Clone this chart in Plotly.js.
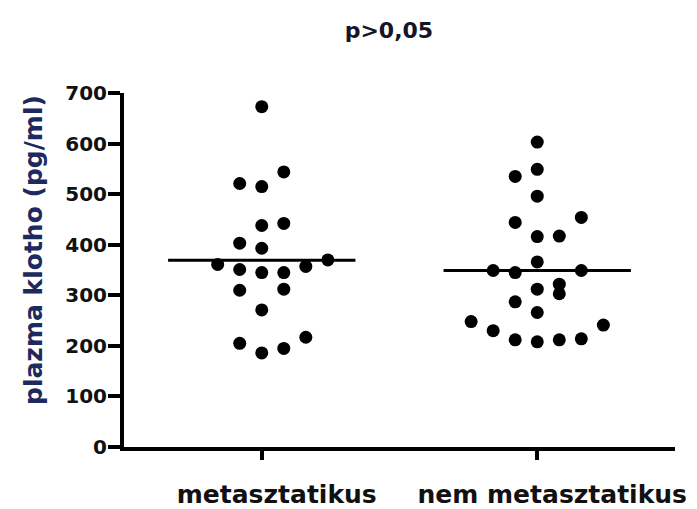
<!DOCTYPE html>
<html>
<head>
<meta charset="utf-8">
<script src="https://cdn.plot.ly/plotly-3.0.1.min.js"></script>
<style>
  html, body { margin: 0; padding: 0; background: #fff; }
  #myDiv { width: 697px; height: 509px; }
</style>
</head>
<body>
<div id="myDiv"></div>
<script>
// groups on the x axis
var groups = ["metasztatikus", "nem metasztatikus"];

// plazma klotho (pg/ml)
var metValues = [673, 544, 521, 515, 442, 438, 403, 393, 361, 370, 351,
                 345, 345, 357, 310, 312, 271, 205, 186, 195, 217];
var nemValues = [603, 549, 535, 496, 444, 454, 416, 417, 366, 349, 345, 349,
                 312, 322, 303, 287, 266, 248, 230, 212, 208, 212, 214, 241];

// beeswarm column of each point (left/right of the group centre)
var metCol = [0, 1, -1, 0, 1, 0, -1, 0, -2, 3, -1,
              0, 1, 2, -1, 1, 0, -1, 0, 1, 2];
var nemCol = [0, 0, -1, 0, -1, 2, 0, 1, 0, -2, -1, 2,
              0, 1, 1, -1, 0, -3, -2, -1, 0, 1, 2, 3];

var yTicks = [0, 100, 200, 300, 400, 500, 600, 700];

var step = 0.08;      // spacing of the swarm columns
var halfLine = 0.34;  // half width of the mean line
var font = "DejaVu Sans, Verdana, sans-serif";

function mean(a) {
    var s = 0;
    for (var i = 0; i < a.length; i++) s += a[i];
    return s / a.length;
}

var sets = [
    {vals: metValues, cols: metCol},
    {vals: nemValues, cols: nemCol}
];

var data = [];
sets.forEach(function(g, gi) {
    data.push({
        x: g.cols.map(function(c) { return gi + c * step; }),
        y: g.vals,
        mode: 'markers',
        type: 'scatter',
        marker: {color: '#000', size: 13, symbol: 'circle'},
        hoverinfo: 'y'
    });
    var m = mean(g.vals);
    data.push({
        x: [gi - halfLine, gi + halfLine],
        y: [m, m],
        mode: 'lines',
        type: 'scatter',
        line: {color: '#000', width: 3},
        hoverinfo: 'skip'
    });
});

var layout = {
    width: 697,
    height: 509,
    margin: {l: 124, r: 22, t: 93, b: 62},
    paper_bgcolor: '#fff',
    plot_bgcolor: '#fff',
    showlegend: false,
    font: {family: font, color: '#111'},
    title: {
        text: '<b>p>0,05</b>',
        font: {family: font, size: 22, color: '#14142a'},
        xref: 'container', yref: 'container',
        x: 0.558, y: 0.94, xanchor: 'center', yanchor: 'middle'
    },
    xaxis: {
        range: [-0.5, 1.5],
        tickvals: [0, 1],
        ticktext: groups.map(function(g) { return '<b>' + g + '</b>'; }),
        tickfont: {family: font, size: 25, color: '#111'},
        ticks: 'outside', ticklen: 9, tickwidth: 4, tickcolor: '#000',
        ticklabelshift: 15, ticklabelstandoff: 13,
        showline: true, linewidth: 4, linecolor: '#000',
        showgrid: false, zeroline: false, fixedrange: true
    },
    yaxis: {
        range: [0, 700],
        tickvals: yTicks,
        ticktext: yTicks.map(function(v) { return '<b>' + v + '</b>'; }),
        tickfont: {family: font, size: 20, color: '#111'},
        ticks: 'outside', ticklen: 12, tickwidth: 4, tickcolor: '#000',
        ticklabelstandoff: -3,
        showline: true, linewidth: 4, linecolor: '#000',
        showgrid: false, zeroline: false, fixedrange: true
    },
    annotations: [{
        text: '<b>plazma klotho (pg/ml)</b>',
        textangle: -90,
        font: {family: font, size: 25, color: '#1c2a60'},
        xref: 'paper', yref: 'paper',
        x: (33 - 124) / 551, y: (447 - 250) / 354,
        xanchor: 'center', yanchor: 'middle',
        showarrow: false
    }]
};

Plotly.newPlot('myDiv', data, layout, {displayModeBar: false, staticPlot: true});
</script>
</body>
</html>
